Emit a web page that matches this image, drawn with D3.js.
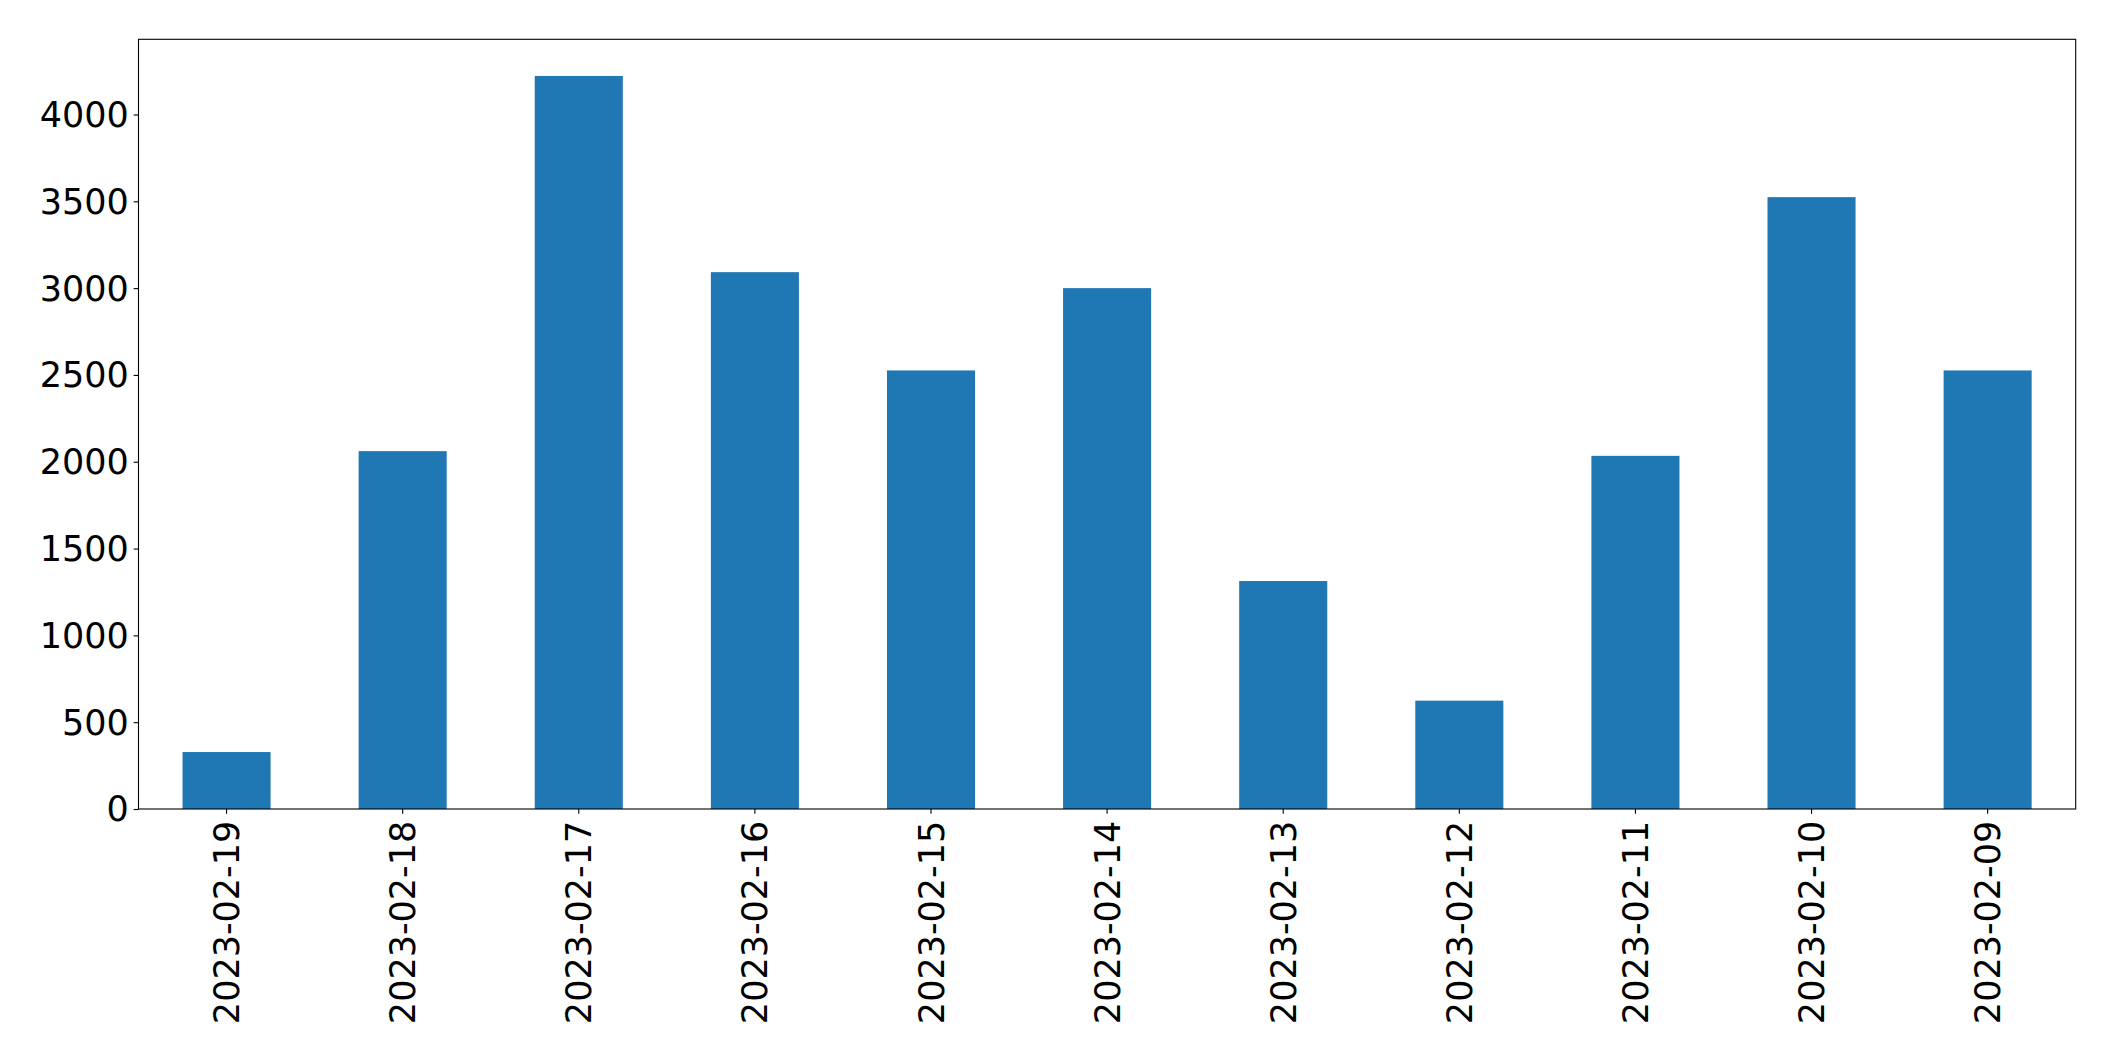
<!DOCTYPE html>
<html lang="en">
<head>
<meta charset="UTF-8">
<script src="https://d3js.org/d3.v7.min.js"></script>
<style>
body { margin: 0; background: white; }
text { font-family: "DejaVu Sans", sans-serif; font-size: 35px; fill: black; }
</style>
</head>
<body>
<div id="chart"></div>
<script>
// dates as they appear on the x axis (newest first)
var dates = ["2023-02-19", "2023-02-18", "2023-02-17", "2023-02-16", "2023-02-15", "2023-02-14",
             "2023-02-13", "2023-02-12", "2023-02-11", "2023-02-10", "2023-02-09"];
var counts = [328, 2061, 4222, 3092, 2526, 3000, 1313, 624, 2034, 3524, 2526];
var yTicks = [0, 500, 1000, 1500, 2000, 2500, 3000, 3500, 4000];

var width = 2115, height = 1061;
var margin = {top: 39.3, right: 2115 - 2075.7, bottom: 1061 - 809, left: 138.5};
var tickLen = 4.86, tickPad = 4.86;

var svg = d3.select("#chart").append("svg")
    .attr("width", width)
    .attr("height", height);

var x = d3.scaleBand()
    .domain(dates)
    .range([margin.left, width - margin.right])
    .paddingInner(0.5)
    .paddingOuter(0.25);

var y = d3.scaleLinear()
    .domain([0, d3.max(counts) * 1.05])
    .range([height - margin.bottom, margin.top]);

// bars
svg.append("g")
  .selectAll("rect")
  .data(counts)
  .enter().append("rect")
    .attr("x", function(d, i) { return x(dates[i]); })
    .attr("y", function(d) { return y(d); })
    .attr("width", x.bandwidth())
    .attr("height", function(d) { return y(0) - y(d); })
    .attr("fill", "#1f77b4");

// y axis
var yAxis = svg.append("g")
    .attr("transform", "translate(" + margin.left + ",0)")
    .call(d3.axisLeft(y).tickValues(yTicks).tickSize(tickLen).tickPadding(tickPad).tickFormat(d3.format("d")));
yAxis.select(".domain").remove();
yAxis.selectAll("line").attr("stroke", "black").attr("stroke-width", 1.1);
yAxis.selectAll("text")
    .attr("dy", "0.34em");

// x axis
var xAxis = svg.append("g")
    .attr("transform", "translate(0," + (height - margin.bottom) + ")")
    .call(d3.axisBottom(x).tickSize(tickLen).tickPadding(tickPad));
xAxis.select(".domain").remove();
xAxis.selectAll("line").attr("stroke", "black").attr("stroke-width", 1.1);
xAxis.selectAll("text")
    .attr("text-anchor", "end")
    .attr("transform", "rotate(-90)")
    .attr("x", -(tickLen + tickPad + 2))
    .attr("y", 0)
    .attr("dy", "0.36em");

// frame
svg.append("rect")
    .attr("x", margin.left)
    .attr("y", margin.top)
    .attr("width", width - margin.left - margin.right)
    .attr("height", height - margin.top - margin.bottom)
    .attr("fill", "none")
    .attr("stroke", "black")
    .attr("stroke-width", 1.1);
</script>
</body>
</html>
